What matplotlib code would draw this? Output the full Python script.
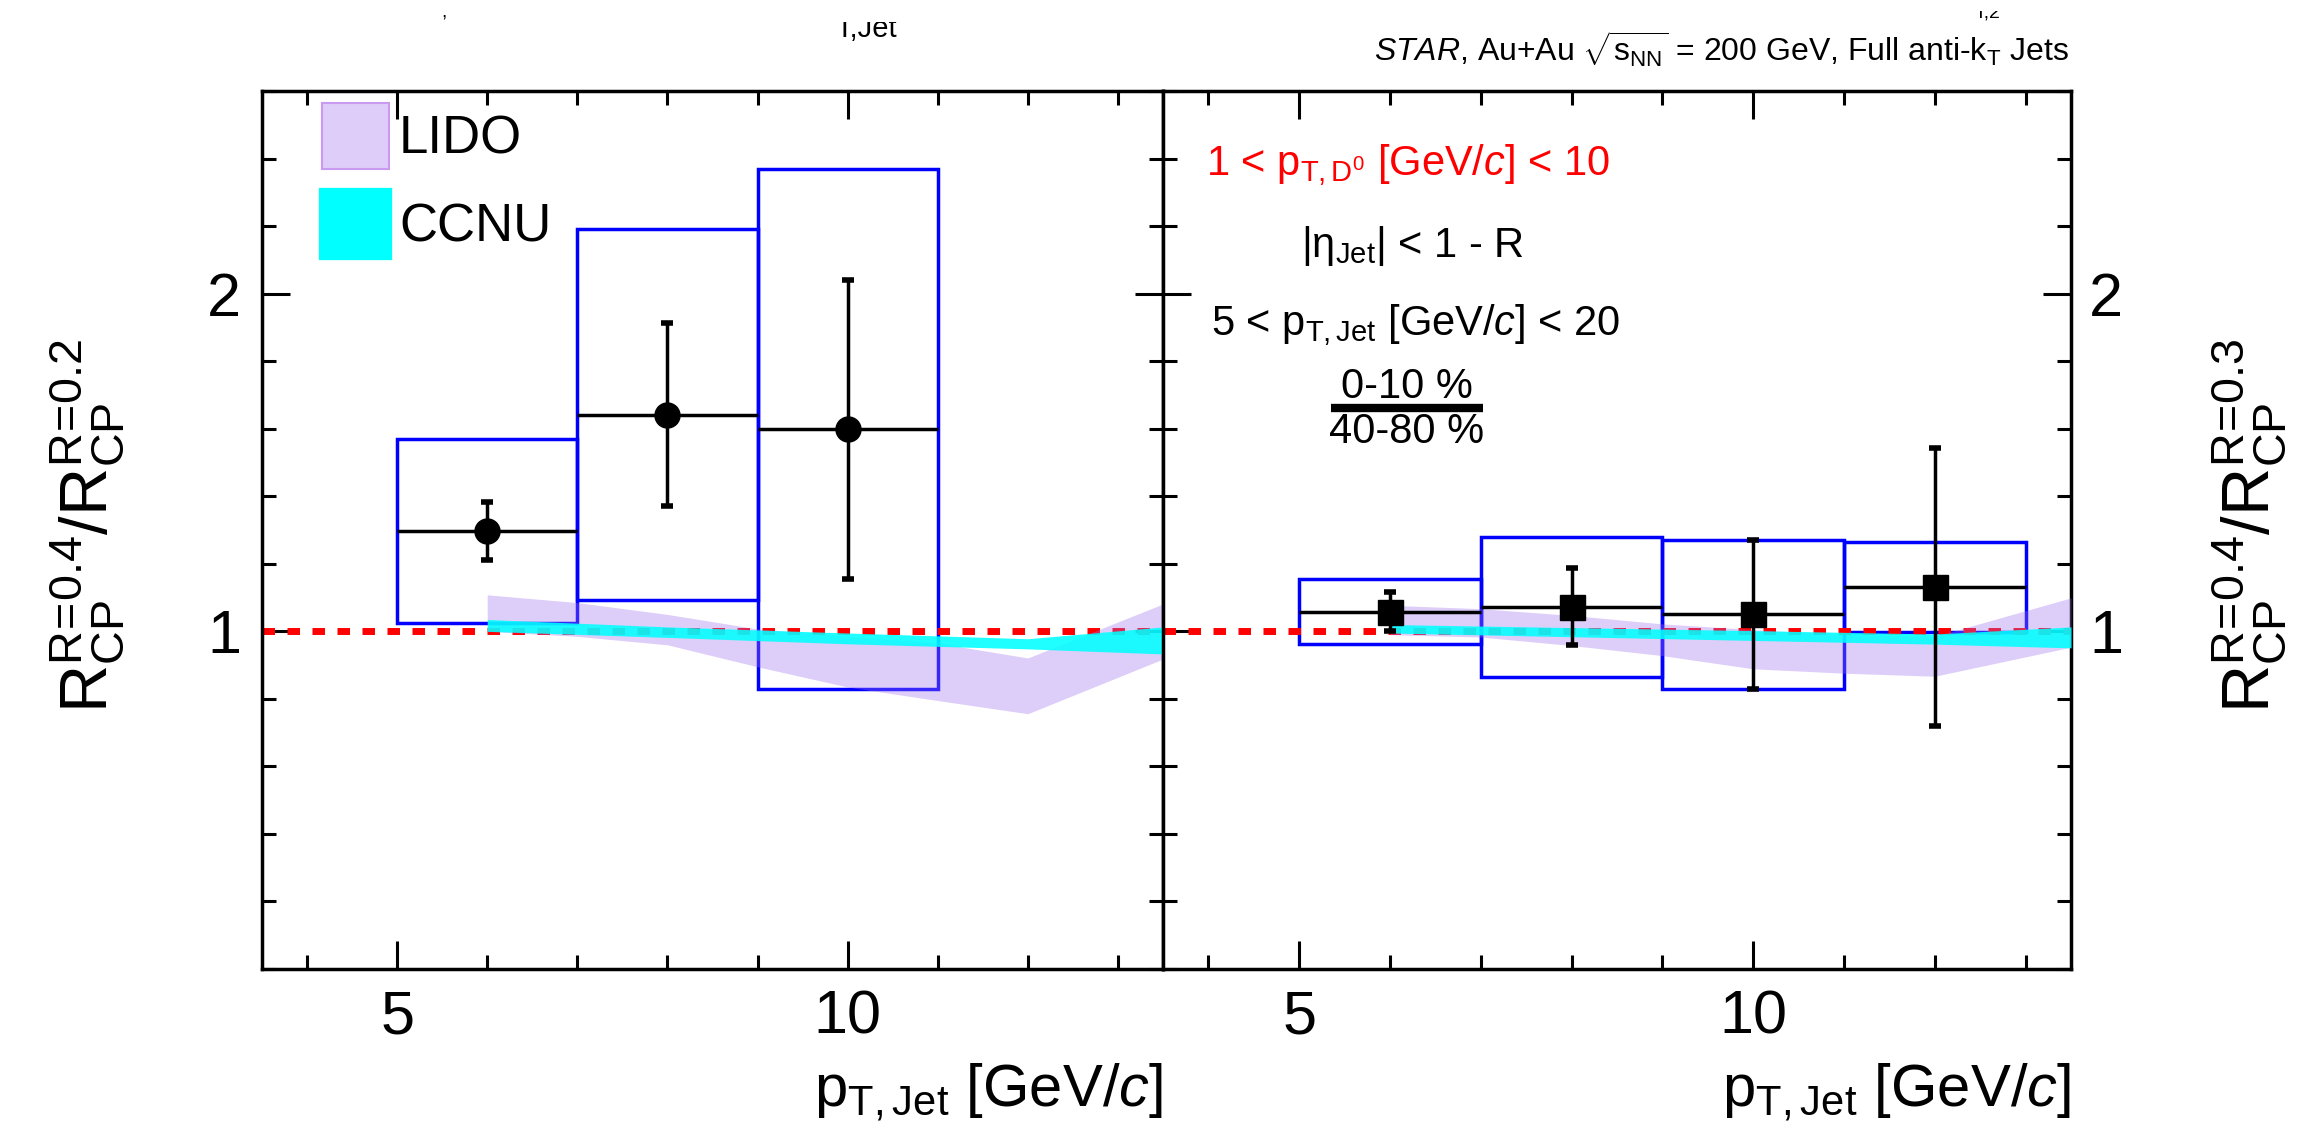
import matplotlib
matplotlib.use("Agg")
import matplotlib.pyplot as plt  # noqa: E402
import matplotlib.patches as mpatches  # noqa: E402
from matplotlib.lines import Line2D  # noqa: E402
from matplotlib.ticker import FixedLocator, MultipleLocator  # noqa: E402
from matplotlib.transforms import Bbox, TransformedBbox  # noqa: E402

plt.rcParams["font.family"] = ["Liberation Sans", "DejaVu Sans"]
plt.rcParams["mathtext.fontset"] = "custom"
plt.rcParams["mathtext.rm"] = "Liberation Sans"
plt.rcParams["mathtext.it"] = "Liberation Sans:italic"
plt.rcParams["mathtext.bf"] = "Liberation Sans:bold"

# R=0.4 / R=0.2, (0-10%)/(40-80%)
pt_02 = [6, 8, 10]
ratio_02 = [1.297, 1.642, 1.598]
stat_02 = [0.087, 0.270, 0.443]
sys_02 = [0.271, 0.550, 0.770]

# R=0.4 / R=0.3
pt_03 = [6, 8, 10, 12]
ratio_03 = [1.058, 1.072, 1.050, 1.131]
stat_03 = [0.057, 0.114, 0.220, 0.412]
sys_03 = [0.097, 0.208, 0.221, 0.134]

BIN_HALF = 1.0  # GeV/c

# model bands
lido_pt = [6, 7, 8, 9, 10, 11, 12, 13.5]
lido_lo_02 = [1.000, 0.985, 0.960, 0.895, 0.835, 0.795, 0.756, 0.918]
lido_hi_02 = [1.108, 1.085, 1.050, 1.007, 0.985, 0.965, 0.921, 1.081]
lido_lo_03 = [0.990, 0.983, 0.958, 0.928, 0.889, 0.876, 0.867, 0.953]
lido_hi_03 = [1.077, 1.067, 1.047, 1.022, 1.005, 0.990, 0.985, 1.099]

ccnu_pt = [6, 8, 10, 12, 13.5]
ccnu_lo_02 = [1.000, 0.982, 0.963, 0.948, 0.933]
ccnu_hi_02 = [1.035, 1.013, 0.995, 0.978, 1.013]
ccnu_lo_03 = [0.995, 0.984, 0.973, 0.962, 0.951]
ccnu_hi_03 = [1.020, 1.011, 1.002, 0.992, 1.013]

BOX_BLUE = "#0000ff"
LIDO = "#a070ee"
LIDO_KEY = "#dfcdf9"
LIDO_EDGE = "#c99af0"
CCNU = "#00ffff"

W, H = 2306, 1135
TICK_FS = 44
YLABEL = (r"$\mathrm{R}_{\mathrm{CP}}^{\mathrm{R\!=\!0.4}}/"
          r"\mathrm{R}_{\mathrm{CP}}^{\mathrm{R\!=\!%s}}$")
XLABEL = r"$\mathrm{p}_{\mathrm{T,Jet}}$ [GeV/$c$]"


def draw_panel(ax, pt, ratio, stat, sys, marker, lido_lo, lido_hi, ccnu_lo, ccnu_hi):
    ax.bar(pt, [2 * s for s in sys], bottom=[r - s for r, s in zip(ratio, sys)],
           width=2 * BIN_HALF, fill=False, edgecolor=BOX_BLUE, linewidth=2.5, zorder=1)
    ax.axhline(1.0, color="red", linestyle=(0, (1.8, 1.8)), linewidth=5,
               dash_capstyle="butt", zorder=2)
    ax.fill_between(lido_pt, lido_lo, lido_hi, color=LIDO, alpha=0.35,
                    linewidth=0, zorder=3)
    ax.fill_between(ccnu_pt, ccnu_lo, ccnu_hi, color=CCNU, alpha=0.88,
                    linewidth=0, zorder=4)
    ax.errorbar(pt, ratio, xerr=BIN_HALF, fmt="none", ecolor="black",
                elinewidth=2.5, capsize=0, zorder=5)
    ax.errorbar(pt, ratio, yerr=stat, fmt=marker, color="black", ms=18,
                elinewidth=2.5, capsize=4, capthick=4, zorder=6)

    ax.set_xlim(3.5, 13.5)
    ax.set_ylim(0, 2.6)
    ax.xaxis.set_major_locator(FixedLocator([5, 10]))
    ax.xaxis.set_minor_locator(MultipleLocator(1))
    ax.yaxis.set_major_locator(FixedLocator([1, 2]))
    ax.yaxis.set_minor_locator(MultipleLocator(0.2))
    ax.tick_params(which="both", direction="in", top=True, right=True,
                   width=2.2, colors="black")
    ax.tick_params(which="major", length=20)
    ax.tick_params(which="minor", length=10)
    ax.tick_params(axis="x", labelsize=TICK_FS, pad=15)
    ax.tick_params(axis="y", labelsize=TICK_FS, pad=15)
    for side in ax.spines.values():
        side.set_linewidth(2.5)
    ax.text(1.0, -0.156, XLABEL, transform=ax.transAxes, ha="right",
            va="baseline", fontsize=43)


fig = plt.figure(figsize=(W / 100, H / 100), dpi=100, facecolor="white")
ax1 = fig.add_axes([262 / W, 1 - 969 / H, 901 / W, 878 / H])
ax2 = fig.add_axes([1163 / W, 1 - 969 / H, 908 / W, 878 / H])

draw_panel(ax1, pt_02, ratio_02, stat_02, sys_02, "o",
           lido_lo_02, lido_hi_02, ccnu_lo_02, ccnu_hi_02)
draw_panel(ax2, pt_03, ratio_03, stat_03, sys_03, "s",
           lido_lo_03, lido_hi_03, ccnu_lo_03, ccnu_hi_03)
ax2.tick_params(axis="y", labelleft=False, labelright=True, pad=13)

# legend for the model bands
keys = [
    mpatches.Patch(facecolor=LIDO_KEY, edgecolor=LIDO_EDGE, linewidth=1.5, label="LIDO"),
    mpatches.Patch(facecolor=CCNU, edgecolor=CCNU, linewidth=4.5,
                   joinstyle="round", label="CCNU"),
]
ax1.legend(handles=keys, loc="upper left", bbox_to_anchor=(0.0666, 0.9863),
           frameon=False, fontsize=38, handlelength=1.26, handleheight=1.55,
           handletextpad=0.2, labelspacing=0.41, borderpad=0, borderaxespad=0)

# selection notes
note = dict(transform=ax2.transAxes, va="baseline", fontsize=30)
ax2.text(0.0474, 0.9043, r"1 < $\mathrm{p}_{\mathrm{T,D^{0}}}$ [GeV/$c$] < 10",
         color="red", ha="left", **note)
ax2.text(0.152, 0.811, r"|η$_{\mathrm{Jet}}$| < 1 - R", ha="left", **note)
ax2.text(0.0529, 0.7221, r"5 < $\mathrm{p}_{\mathrm{T,Jet}}$ [GeV/$c$] < 20",
         ha="left", **note)
ax2.text(0.2687, 0.6503, "0-10 %", ha="center", **note)
ax2.text(0.2687, 0.599, "40-80 %", ha="center", **note)
ax2.add_line(Line2D([0.185, 0.3524], [0.6395, 0.6395], transform=ax2.transAxes,
                    color="black", linewidth=6, solid_capstyle="butt"))

fig.text(2069 / W, 1 - 62 / H,
         r"$\mathit{STAR}$, Au+Au $\sqrt{\mathrm{s}_{\mathrm{NN}}}$ = 200 GeV, "
         r"Full anti-k$_{\mathrm{T}}$ Jets",
         ha="right", va="baseline", fontsize=23)

fig.text(88 / W, 0.537, YLABEL % "0.2", rotation=90, ha="center", va="center",
         fontsize=48)
fig.text(2250 / W, 0.537, YLABEL % "0.3", rotation=90, ha="center", va="center",
         fontsize=48)


def top_fragment(x_px, base_px, cut_px, s, size):
    """Bottom part of a label line that sits above the page."""
    t = fig.text(x_px / W, 1 - base_px / H, s, fontsize=size, va="baseline")
    t.set_clip_box(TransformedBbox(Bbox([[0, 0], [1, 1 - cut_px / H]]),
                                   fig.transFigure))
    t.set_clip_on(True)


top_fragment(835, 37, 22, "T,Jet", 21)
top_fragment(441, 18, 12, ",", 14)
top_fragment(1975, 18, 11, "T,2", 14)

fig.savefig("out.png", dpi=100, facecolor="white")
